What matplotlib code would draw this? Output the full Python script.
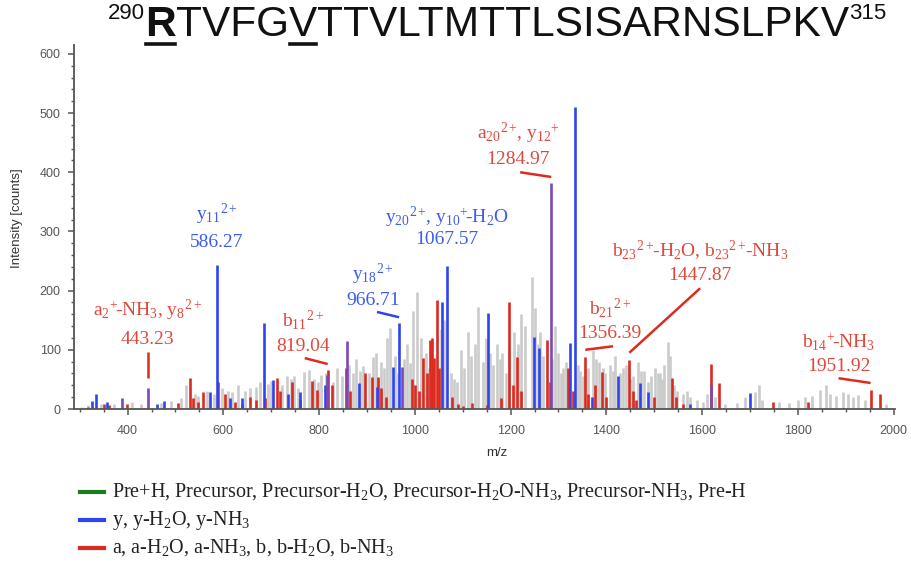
import matplotlib
matplotlib.use("Agg")
import matplotlib.pyplot as plt
from matplotlib.lines import Line2D
from matplotlib.ticker import MultipleLocator

plt.rcParams['font.family'] = ['Liberation Sans', 'DejaVu Sans']
plt.rcParams['mathtext.fontset'] = 'custom'
plt.rcParams['mathtext.rm'] = 'Liberation Serif'
plt.rcParams['mathtext.it'] = 'Liberation Serif:italic'
plt.rcParams['mathtext.bf'] = 'Liberation Serif:bold'

#----------------------------------------
#--------peak lists (m/z, intensity)------
#----------------------------------------
# unassigned peaks
gray_mz = [305, 318, 345, 372, 410, 428, 470, 490, 512, 521, 548, 566, 580, 597, 618,
           630, 646, 668, 676, 694, 722, 733, 748, 756, 768, 778, 790, 805, 828, 838,
           848, 870, 878, 892, 905, 918, 930, 941, 948, 958, 984, 990, 996, 1004, 1012,
           1024, 1030, 1054, 1075, 1088, 1096, 1110, 1118, 1126, 1132, 1142, 1148, 1163,
           1172, 1183, 1190, 1208, 1222, 1230, 1245, 1252, 1258, 1268, 1292, 1300, 1310,
           1316, 1345, 1362, 1372, 1384, 1398, 1408, 1418, 1435, 1456, 1466, 1478, 1494,
           1502, 1512, 1520, 1529, 1534, 1548, 1560, 1575, 1590, 1602, 1648, 1672, 1690,
           1710, 1718, 1726, 1760, 1782, 1800, 1815, 1830, 1847, 1858, 1868, 1880, 1895,
           1905, 1915, 1925, 1940, 1985,
           540, 610, 655, 700, 741, 798, 815, 862, 885, 912, 936, 964, 978, 1060,
           1082, 1103, 1158, 1178, 1196, 1215, 1262, 1286, 1305, 1340, 1352, 1378,
           1392, 1413, 1428, 1442, 1450, 1472, 1486, 1508, 1516, 1541, 1568, 1610, 1626]
gray_int = [4, 6, 8, 9, 12, 8, 10, 14, 18, 40, 22, 30, 25, 35, 28,
            40, 30, 38, 45, 42, 40, 55, 56, 35, 62, 66, 50, 58, 45, 70,
            55, 60, 85, 72, 60, 95, 80, 120, 137, 90, 110, 78, 165, 198, 120,
            95, 70, 135, 60, 45, 100, 130, 90, 110, 172, 80, 120, 75,
            110, 95, 60, 130, 160, 140, 223, 170, 110, 90, 140, 95, 70,
            80, 65, 70, 100, 80, 60, 75, 90, 70, 55, 80, 65, 55,
            70, 60, 75, 113, 90, 30, 25, 20, 15, 12, 8, 10, 20,
            28, 40, 15, 12, 10, 15, 20, 22, 32, 40, 25, 22, 28,
            25, 20, 24, 15, 8,
            25, 30, 35, 48, 50, 45, 60, 75, 65, 88, 70, 60, 85, 150,
            50, 70, 95, 85, 100, 110, 130, 85, 60, 75, 55, 85,
            70, 65, 60, 75, 50, 65, 45, 60, 50, 40, 30, 25, 20]

# a / b type ions
red_mz = [318, 350, 362, 398, 505, 530, 536, 546, 557, 588, 603, 624, 638, 655,
          668, 687, 712, 718, 743, 760, 785, 795, 819.04, 826, 856, 864, 896, 910,
          923, 930, 940, 994, 1000, 1008, 1017, 1026, 1032, 1036, 1040, 1046, 1050,
          1078, 1090, 1101, 1120, 1150, 1180, 1197, 1204, 1214, 1222, 1276, 1282,
          1320, 1330, 1356.39, 1362, 1376, 1391, 1400, 1447.87, 1455, 1462, 1500,
          1537, 1546, 1560, 1619, 1636, 1749, 1822, 1951.92, 1971]
red_int = [3, 8, 6, 8, 10, 52, 19, 12, 29, 45, 26, 12, 8, 20,
           15, 18, 52, 30, 45, 15, 47, 32, 66, 40, 69, 30, 61, 54,
           54, 35, 20, 51, 40, 30, 86, 60, 117, 120, 86, 184, 70,
           21, 8, 5, 10, 6, 18, 181, 40, 88, 30, 117, 45,
           69, 30, 88, 25, 40, 63, 20, 83, 30, 15, 20,
           52, 20, 8, 76, 44, 12, 12, 32, 25]

# y type ions
blue_mz = [325, 333, 356, 461, 477, 572, 586.27, 613, 638, 684, 703, 735, 760, 812,
           883, 921, 954, 966.71, 1057, 1067.57, 1153, 1249, 1260, 1324, 1335, 1370,
           1425, 1471, 1488, 1575, 1700]
blue_int = [13, 25, 12, 8, 13, 29, 243, 18, 18, 145, 49, 26, 29, 41,
            44, 37, 71, 145, 181, 242, 162, 122, 103, 112, 510, 20,
            56, 44, 29, 8, 27]

# peaks matched by both series
both_mz = [389, 443.23, 816, 858, 973, 1284.97, 1619]
both_int = [18, 36, 58, 115, 71, 382, 40]

# annotations: text, label x, y of first line, y of second line, colour key
ann_text = [r"a$_2{}^{+}\!$-NH$_3$, y$_8{}^{2+}\!$",
            r"y$_{11}{}^{2+}\!$",
            r"b$_{11}{}^{2+}\!$",
            r"y$_{18}{}^{2+}\!$",
            r"y$_{20}{}^{2+}\!$, y$_{10}{}^{+}\!$-H$_2$O",
            r"a$_{20}{}^{2+}\!$, y$_{12}{}^{+}\!$",
            r"b$_{21}{}^{2+}\!$",
            r"b$_{23}{}^{2+}\!$-H$_2$O, b$_{23}{}^{2+}\!$-NH$_3$",
            r"b$_{14}{}^{+}\!$-NH$_3$"]
ann_mz = [443.23, 586.27, 819.04, 966.71, 1067.57, 1284.97, 1356.39, 1447.87, 1951.92]
ann_x = [442, 586, 766, 912, 1067, 1216, 1408, 1596, 1885]
ann_y1 = [167, 328, 150, 228, 324, 466, 171, 267, 112]
ann_y2 = [118, 282, 106, 184, 286, 421, 128, 226, 71]
ann_col = ['r', 'b', 'r', 'b', 'b', 'r', 'r', 'r', 'r']
# leader lines (x0, y0, x1, y1)
lead_lines = [(442, 96, 442, 52, 'r'),
              (770, 86, 818, 76, 'r'),
              (921, 164, 967, 155, 'b'),
              (1220, 400, 1285, 392, 'r'),
              (1356, 100, 1414, 106, 'r'),
              (1596, 204, 1448, 95, 'r'),
              (1885, 52, 1952, 44, 'r')]

legend_labels = [r"Pre+H, Precursor, Precursor-H$_2$O, Precursor-H$_2$O-NH$_3$, Precursor-NH$_3$, Pre-H",
                 r"y, y-H$_2$O, y-NH$_3$",
                 r"a, a-H$_2$O, a-NH$_3$, b, b-H$_2$O, b-NH$_3$"]

RED = '#db2a1f'
BLUE = '#2f44f0'
PURPLE = '#7a49b6'
GRAY = '#cbcbcb'
GREEN = '#1d7a22'
TXT = {'r': '#e0483c', 'b': '#3d5cf0'}
LINE = {'r': '#dd2b20', 'b': '#2f44f0'}

W, H = 911, 562
fig = plt.figure(figsize=(W / 100, H / 100), dpi=100)
ax = fig.add_axes([74 / W, 1 - 409 / H, 821 / W, 364 / H])

#----------------------------------------
#--------spectrum-----------
#----------------------------------------
lw = 1.9
ax.vlines(gray_mz, 0, gray_int, colors=GRAY, lw=lw)
ax.vlines(red_mz, 0, red_int, colors=RED, lw=lw)
ax.vlines(blue_mz, 0, blue_int, colors=BLUE, lw=lw)
ax.vlines(both_mz, 0, both_int, colors=PURPLE, lw=lw)

ax.set_xlim(288, 2003)
ax.set_ylim(0, 615)
ax.xaxis.set_major_locator(MultipleLocator(200))
ax.xaxis.set_minor_locator(MultipleLocator(50))
ax.yaxis.set_major_locator(MultipleLocator(100))
ax.yaxis.set_minor_locator(MultipleLocator(20))
for s in ['top', 'right']:
    ax.spines[s].set_visible(False)
for s in ['left', 'bottom']:
    ax.spines[s].set_color('#555555')
    ax.spines[s].set_linewidth(1.3)
ax.tick_params(which='major', length=4.5, width=1.1, color='#555555',
               labelsize=9, labelcolor='#555555', pad=5)
ax.tick_params(axis='x', which='major', pad=7)
ax.tick_params(which='minor', length=2.2, width=1.0, color='#555555')
ax.set_ylabel('Intensity [counts]', fontsize=9.5, color='#333333')
ax.yaxis.set_label_coords(-0.062, 0.525)
ax.set_xlabel('m/z', fontsize=9.5, color='#333333')
ax.xaxis.set_label_coords(0.515, -0.104)

#----------------------------------------
#--------peak labels-----------
#----------------------------------------
for t, mz, x, y1, y2, c in zip(ann_text, ann_mz, ann_x, ann_y1, ann_y2, ann_col):
    ax.text(x, y1, t, ha='center', va='center', fontsize=14,
            family='Liberation Serif', color=TXT[c])
    ax.text(x, y2, f"{mz:.2f}", ha='center', va='center', fontsize=14,
            family='Liberation Serif', color=TXT[c])
for x0, y0, x1, y1, c in lead_lines:
    ax.plot([x0, x1], [y0, y1], color=LINE[c], lw=1.8, solid_capstyle='butt')

#----------------------------------------
#--------legend-----------
#----------------------------------------
for i, (lab, col) in enumerate(zip(legend_labels, [GREEN, BLUE, RED])):
    yy = 1 - (492 + 28 * i) / H
    fig.add_artist(Line2D([80 / W, 104 / W], [yy, yy], color=col, lw=3,
                          transform=fig.transFigure))
    fig.text(112 / W, yy, lab, va='center', ha='left', fontsize=14.5,
             family='Liberation Serif', color='#222222')

#----------------------------------------
#--------sequence header-----------
#----------------------------------------
seq_parts = [("290", 'sup', False),
             ("R", 'bold', True),
             ("TVFG", 'normal', False),
             ("V", 'normal', True),
             ("TTVLTMTTLSISARNSLPKV", 'normal', False),
             ("315", 'sup', False)]
renderer = fig.canvas.get_renderer()


def part_text(x, txt, kind):
    if kind == 'sup':
        return fig.text(x / W, 1 - 19 / H, txt, fontsize=16, va='baseline',
                        ha='left', color='#111111')
    return fig.text(x / W, 1 - 36 / H, txt, fontsize=30.5, va='baseline', ha='left',
                    color='#111111', fontweight='bold' if kind == 'bold' else 'normal')


widths = []
for txt, kind, _ in seq_parts:
    t = part_text(0, txt, kind)
    widths.append(t.get_window_extent(renderer).width)
    t.remove()

x = 497 - sum(widths) / 2
for (txt, kind, under), w in zip(seq_parts, widths):
    part_text(x, txt, kind)
    if under:
        fig.add_artist(Line2D([(x + 1) / W, (x + w - 1) / W], [1 - 44 / H, 1 - 44 / H],
                              color='#111111', lw=2.6, transform=fig.transFigure))
    x += w

fig.savefig('out.png', dpi=100)
